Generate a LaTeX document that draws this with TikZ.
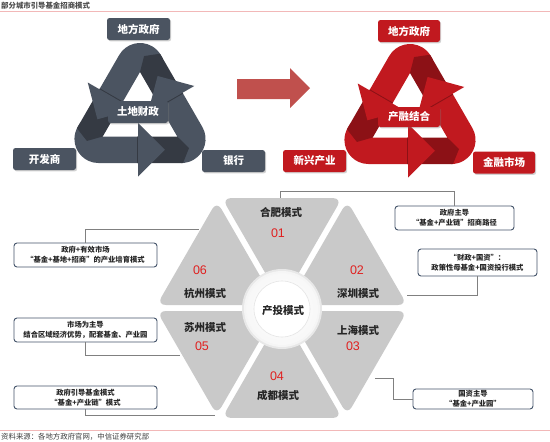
\documentclass[tikz,border=0pt]{standalone}
\usepackage{fontspec}
\setmainfont{Noto Sans CJK SC}
\newfontfamily\numfont{Liberation Sans}
\usetikzlibrary{shadows,calc}
\definecolor{slate}{HTML}{4B5461}
\definecolor{slatedk}{HTML}{353A43}
\definecolor{rred}{HTML}{C1191F}
\definecolor{rreddk}{HTML}{8C1116}
\definecolor{arrowred}{HTML}{C0504D}
\definecolor{hexgray}{HTML}{C9C9C9}
\definecolor{numred}{HTML}{E0201F}
\definecolor{calloutedge}{HTML}{44546A}
\definecolor{connline}{HTML}{808080}
\definecolor{pinkline}{HTML}{F2B8B8}
\newcommand\boxfont{\fontsize{10.5}{12}\selectfont\bfseries}
\newcommand\segfont{\fontsize{10.5}{12}\selectfont\bfseries}
\newcommand\numfnt{\numfont\fontsize{12.5}{14}\selectfont}
\newcommand\calloutfont{\fontsize{7.3}{9.6}\selectfont\bfseries}
\newcommand\smallfont{\fontsize{7.4}{9}\selectfont}
\newcommand\recyclesym[4]{%
\begin{scope}[shift={(#1,#2)},x=1pt,y=1pt]
 \foreach \a in {0,120,240}{
  \fill[#3,rotate=\a] (-1,-21.5) -- (-1,-48) -- (-41.57,-48) arc[start angle=270,end angle=150,radius=24] -- (-60.15,-8.25) -- (-37.2,-21.5) -- cycle;
 }
 \foreach \a in {0,120,240}{
  \fill[#4,rotate=\a] (-3,-21.5) -- (37.2,-21.5) -- (49,-33) -- (43,-48) -- (-3,-48) -- cycle;
 }
 \foreach \a in {0,120,240}{
  \fill[#3,rotate=\a] (-2,-8) -- (25,-34.75) -- (-2,-61.5) -- cycle;
 }
\end{scope}}
\begin{document}
\begin{tikzpicture}[x=1pt,y=-1pt,
  tagbox/.style={text=white, rounded corners=2.5pt, minimum width=63, minimum height=22, inner sep=1pt, font=\boxfont, drop shadow={shadow xshift=1.2pt, shadow yshift=-1.4pt, opacity=0.35}},
  graybox/.style={tagbox, fill=slate},
  redbox/.style={tagbox, fill=rred},
  callout/.style={draw=calloutedge, line width=0.9pt, fill=white, rounded corners=3pt, align=center, font=\calloutfont, text=black!85, inner sep=1pt},
  conn/.style={draw=connline, line width=0.8pt},
  seglabel/.style={font=\segfont, text=black!85, inner sep=0pt},
  segnum/.style={font=\numfnt, text=numred, inner sep=0pt},
  rule/.style={draw=pinkline, line width=0.8pt}]
\useasboundingbox (0,0) rectangle (550,442);
\fill[white] (0,0) rectangle (550,442);
% title and source
\node[anchor=west, font=\smallfont\bfseries, text=black!70, inner sep=0pt] (title) at (1,5.5) {部分城市引导基金招商模式};
\coordinate (tl) at (0,11); \coordinate (tr) at (550,11);
\draw[rule] (tl) -- (tr);
\coordinate (bl) at (0,430.5); \coordinate (br) at (550,430.5);
\draw[rule] (bl) -- (br);
\node[anchor=west, font=\smallfont, text=black!75, inner sep=0pt] (source) at (1,436.5) {资料来源：各地方政府官网，中信证券研究部};
% left recycle symbol
\recyclesym{140}{115}{slate}{slatedk}
\node[graybox] (lgov) at (138.5,29) {地方政府};
\node[graybox, minimum width=60] (lland) at (138,112) {土地财政};
\node[graybox] (ldev) at (44.5,159) {开发商};
\node[graybox] (lbank) at (233.5,161) {银行};
% middle arrow
\fill[arrowred] (237,79) -- (290,79) -- (290,68) -- (310,88) -- (290,108) -- (290,99) -- (237,99) -- cycle;
% right recycle symbol
\recyclesym{410}{116}{rred}{rreddk}
\node[redbox, minimum width=62] (rgov) at (409,31) {地方政府};
\node[redbox, minimum width=62, minimum height=20] (rmix) at (409,117) {产融结合};
\node[redbox] (rnew) at (314.5,161) {新兴产业};
\node[redbox, minimum width=62] (rfin) at (504,162.5) {金融市场};
% callout boxes
\node[callout, minimum width=119, minimum height=24] (cb1) at (454.5,218) {政府主导\\“基金+产业链”招商路径};
\node[callout, minimum width=119, minimum height=27] (cb2) at (477.5,262.5) {“财政+国资”：\\政策性母基金+国资投行模式};
\node[callout, minimum width=120, minimum height=20] (cb3) at (473,399) {国资主导\\“基金+产业园”};
\node[callout, minimum width=143, minimum height=24] (cb4) at (85.5,255) {政府+有效市场\\“基金+基地+招商”的产业培育模式};
\node[callout, minimum width=143, minimum height=24] (cb5) at (85.5,330) {市场为主导\\结合区域经济优势，配套基金、产业园};
\node[callout, minimum width=143, minimum height=23] (cb6) at (85.5,397.5) {政府引导基金模式\\“基金+产业链”模式};
% connector attachment points
\coordinate (s01) at (280,200);
\coordinate (s02) at (407,295);
\coordinate (s03) at (375,378);
\coordinate (s04) at (215,415);
\coordinate (s05) at (180,355);
\coordinate (s06) at (199,229);
\coordinate (k3) at (393,399);
\draw[conn] (s01) -- ++(0,-8.5) -| (cb1.north);
\draw[conn] (cb2.south) |- (s02);
\draw[conn] (s03) -| (k3) -- (cb3.west);
\draw[conn] (cb4.north) |- (s06);
\draw[conn] (cb5.south) |- (s05);
\draw[conn] (cb6.south) |- (s04);
% hexagon segments
\begin{scope}[shift={(282,308)},x=1pt,y=1pt]
\foreach \b in {90,30,-30,-90,-150,150}
  \fill[hexgray,rounded corners=9pt,shift={(\b:6)}] (0,0) -- (\b-30:120) -- (\b+30:120) -- cycle;
\end{scope}
% centre circle
\fill[black!9] (282,309) circle (40);
\fill[black!4] (282,309) circle (38);
\shade[inner color=white, outer color=black!3] (282,309) circle (36);
\fill[white] (282,309) circle (28);
\draw[black!10, line width=0.6pt] (282,309) circle (28);
\node[seglabel] (hub) at (283,311) {产投模式};
% segment labels
\node[seglabel] (t1) at (281,212) {合肥模式};
\node[segnum] (n1) at (278,233) {01};
\node[segnum] (n2) at (357,270) {02};
\node[seglabel] (t2) at (358,293) {深圳模式};
\node[seglabel] (t3) at (358,330) {上海模式};
\node[segnum] (n3) at (353,346) {03};
\node[segnum] (n4) at (277,376) {04};
\node[seglabel] (t4) at (278,395) {成都模式};
\node[seglabel] (t5) at (205,328) {苏州模式};
\node[segnum] (n5) at (202,346) {05};
\node[segnum] (n6) at (200,270) {06};
\node[seglabel] (t6) at (205,293) {杭州模式};
\end{tikzpicture}
\end{document}
